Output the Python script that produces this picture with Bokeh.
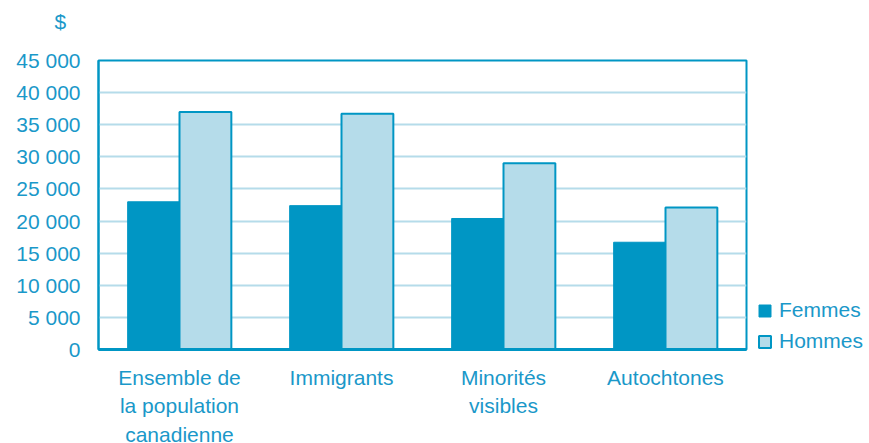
from bokeh.plotting import figure
from bokeh.models import (ColumnDataSource, FactorRange, Range1d, FixedTicker, Legend,
                          LegendItem, Title)
from bokeh.transform import dodge
from bokeh.embed import file_html
from bokeh.resources import INLINE

categories = ["Ensemble de\nla population\ncanadienne", "Immigrants", "Minorités\nvisibles", "Autochtones"]
femmes = [23000, 22400, 20400, 16700]
hommes = [37000, 36700, 29000, 22100]
y_ticks = [0, 5000, 10000, 15000, 20000, 25000, 30000, 35000, 40000, 45000]
y_labels = ["0", "5 000", "10 000", "15 000", "20 000", "25 000", "30 000", "35 000", "40 000", "45 000"]

BLUE = "#0096c4"
LIGHT = "#b5dcea"
TEXT = "#1a98c9"
FONT = "Liberation Sans"

src = ColumnDataSource(dict(cat=categories, femmes=femmes, hommes=hommes))

p = figure(frame_width=648, frame_height=289, output_backend="svg", toolbar_location=None,
           x_range=FactorRange(*categories, range_padding=0), y_range=Range1d(0, 45000),
           min_border_left=98, min_border_right=123, min_border_top=60, min_border_bottom=94,
           title=Title(text="$\n ", align="left", vertical_align="top", offset=-44, standoff=6,
                       text_font=FONT, text_font_size="21px", text_color=TEXT,
                       text_font_style="normal"))
p.background_fill_color = "white"
p.border_fill_color = "white"
p.outline_line_color = BLUE
p.outline_line_width = 2

rf = p.vbar(x=dodge("cat", -0.16, range=p.x_range), top="femmes", width=0.32, source=src,
            fill_color=BLUE, line_color=BLUE, line_width=1)
rh = p.vbar(x=dodge("cat", 0.16, range=p.x_range), top="hommes", width=0.32, source=src,
            fill_color=LIGHT, line_color=BLUE, line_width=2)

p.xgrid.grid_line_color = None
p.ygrid.ticker = FixedTicker(ticks=y_ticks[1:-1])
p.ygrid.grid_line_color = LIGHT
p.ygrid.grid_line_width = 2

ya = p.yaxis[0]
ya.ticker = FixedTicker(ticks=y_ticks)
ya.major_label_overrides = {t: l for t, l in zip(y_ticks, y_labels)}
ya.axis_line_color = BLUE
ya.axis_line_width = 2
ya.major_tick_line_color = None
ya.minor_tick_line_color = None
ya.major_label_text_font = FONT
ya.major_label_text_font_size = "21px"
ya.major_label_text_color = TEXT
ya.major_label_standoff = 12

xa = p.xaxis[0]
xa.axis_line_color = BLUE
xa.axis_line_width = 3
xa.major_tick_line_color = None
xa.minor_tick_line_color = None
xa.major_label_text_font = FONT
xa.major_label_text_font_size = "21px"
xa.major_label_text_color = TEXT
xa.major_label_text_line_height = 1.25
xa.major_label_standoff = 10

legend = Legend(items=[LegendItem(label="Femmes", renderers=[rf]),
                       LegendItem(label="Hommes", renderers=[rh])],
                location=(11, -4), orientation="vertical")
legend.border_line_color = None
legend.background_fill_alpha = 0
legend.margin = 0
legend.padding = 0
legend.glyph_width = 15
legend.glyph_height = 15
legend.label_height = 20
legend.spacing = 7
legend.label_standoff = 7
legend.label_text_font = FONT
legend.label_text_font_size = "21px"
legend.label_text_color = TEXT
legend.label_text_baseline = "middle"
p.add_layout(legend, "right")

open("out.html", "w").write(file_html(p, INLINE))
